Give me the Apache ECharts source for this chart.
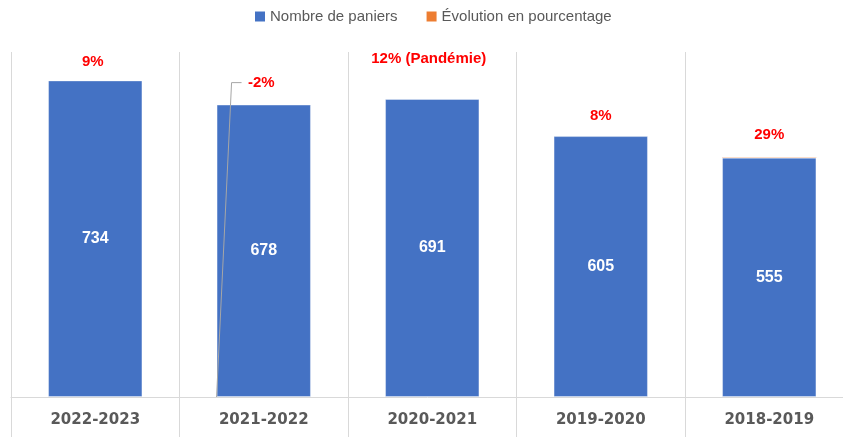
<!DOCTYPE html>
<html><head><meta charset="utf-8">
<script src="https://cdn.jsdelivr.net/npm/echarts@6/dist/echarts.min.js"></script>
<style>html,body{margin:0;padding:0;background:#fff}#c{width:843px;height:437px}</style>
</head><body><div id="c"></div>
<script>
const categories = ['2022-2023', '2021-2022', '2020-2021', '2019-2020', '2018-2019'];
const paniers = [734, 678, 691, 605, 555];
const evolution = [0.09, -0.02, 0.12, 0.08, 0.29];
const evolutionLabels = ['9%', '-2%', '12% (Pandémie)', '8%', '29%'];

// label placement (pixels above the blue bar top, horizontal nudge)
const labelRise = [19, 22, 40, 20, 23];
const labelDx = [-2.5, -2.5, -3.5, 0, 0];
const BAR_FRAC = 0.56;

const chart = echarts.init(document.getElementById('c'), null, { renderer: 'canvas' });

const leaderData = [];
evolution.forEach(function (v, i) { if (v < 0) leaderData.push([i, paniers[i]]); });

const option = {
  animation: false,
  backgroundColor: '#ffffff',
  legend: {
    top: 4,
    left: 250,
    itemWidth: 10,
    itemHeight: 10,
    itemGap: 29,
    icon: 'rect',
    textStyle: { color: '#595959', fontSize: 15, fontFamily: 'Liberation Sans' },
    itemStyle: { borderWidth: 0 },
    data: ['Nombre de paniers', 'Évolution en pourcentage']
  },
  grid: { left: 11, width: 842.5, top: 52, bottom: 40, containLabel: false, outerBoundsMode: 'none' },
  xAxis: {
    type: 'category',
    data: categories,
    axisLine: { show: true, lineStyle: { color: '#D9D9D9', width: 1 } },
    axisTick: { show: true, length: 40, lineStyle: { color: '#D9D9D9' } },
    splitLine: { show: true, interval: 0, lineStyle: { color: '#D9D9D9', width: 1 } },
    axisLabel: {
      margin: 16,
      color: '#595959',
      fontSize: 15,
      fontWeight: 'bold',
      fontFamily: 'DejaVu Sans',
      interval: 0
    }
  },
  yAxis: {
    type: 'value',
    show: false,
    min: 0,
    max: 800,
    splitLine: { show: false }
  },
  series: [
    {
      name: 'Nombre de paniers',
      type: 'bar',
      stack: 'total',
      barCategoryGap: ((1 - BAR_FRAC) * 100) + '%',
      data: paniers,
      itemStyle: { color: '#4472C4', borderColor: 'rgba(255,255,255,0.35)', borderWidth: 1 },
      label: {
        show: true,
        position: 'inside',
        color: '#ffffff',
        fontSize: 16,
        fontWeight: 'bold',
        fontFamily: 'Liberation Sans'
      }
    },
    {
      name: 'Évolution en pourcentage',
      type: 'bar',
      stack: 'total',
      data: evolution,
      itemStyle: { color: '#ED7D31' },
      label: {
        show: true,
        position: 'top',
        color: '#FF0000',
        fontSize: 15,
        fontWeight: 'bold',
        fontFamily: 'Liberation Sans',
        formatter: function (p) { return evolutionLabels[p.dataIndex]; }
      },
      labelLayout: function (p) {
        const i = p.dataIndex;
        const top = chart.convertToPixel({ xAxisIndex: 0, yAxisIndex: 0 }, [i, paniers[i]]);
        return { x: top[0] + labelDx[i], y: top[1] - labelRise[i], align: 'center', verticalAlign: 'middle' };
      }
    },
    {
      name: 'leader',
      type: 'custom',
      silent: true,
      z: 5,
      data: leaderData,
      encode: { x: 0, y: 1 },
      renderItem: function (params, api) {
        const i = api.value(0);
        const base = api.coord([i, 0]);
        const top = api.coord([i, api.value(1)]);
        const band = api.size([1, 0])[0];
        const x0 = base[0] - band * BAR_FRAC / 2;
        const y = top[1] - labelRise[i];
        return {
          type: 'polyline',
          shape: { points: [[x0, base[1]], [x0 + 15, y], [x0 + 25, y]] },
          style: { stroke: '#A6A6A6', lineWidth: 1, fill: null }
        };
      }
    }
  ]
};
chart.setOption(option);
</script>
</body></html>
